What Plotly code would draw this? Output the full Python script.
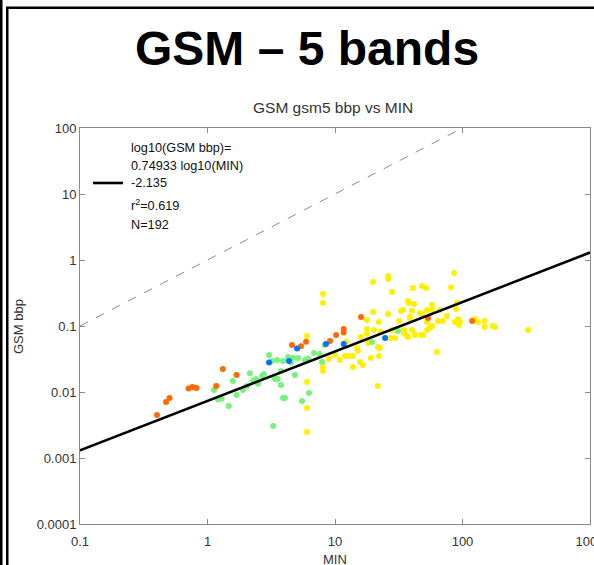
import math
import plotly.graph_objects as go

# ---------------- data ----------------
orange_x = [0.402, 0.473, 0.504, 0.71, 0.762, 0.82, 1.17, 1.32, 1.69, 4.60, 5.41, 5.93,
            9.14, 10.2, 11.7, 11.7, 16.0, 53.6, 119]
orange_y = [0.00449, 0.00705, 0.00811, 0.0113, 0.0119, 0.0115, 0.0123, 0.0223, 0.0181,
            0.0515, 0.0494, 0.0575, 0.0594, 0.0731, 0.0901, 0.0797, 0.137, 0.132, 0.119]

blue_x = [3.04, 4.36, 5.04, 8.50, 11.7, 24.7]
blue_y = [0.028, 0.0295, 0.0456, 0.0533, 0.0533, 0.0658]

green_x = [1.125, 1.21, 1.29, 1.47, 1.58, 1.69, 1.90, 2.04, 2.15, 2.27, 2.40, 2.49, 2.68,
           2.77, 3.04, 3.21, 3.51, 3.38, 3.55, 3.77, 3.77, 3.91, 4.05, 3.27, 3.91, 4.28,
           4.52, 4.69, 5.13, 4.85, 5.51, 5.82, 6.14, 6.25, 6.84, 7.55, 7.91, 8.28, 19.5, 31.2]
green_y = [0.0107, 0.00769, 0.0079, 0.00614, 0.0147, 0.00901, 0.0107, 0.0123, 0.0193,
           0.0147, 0.0157, 0.0133, 0.0175, 0.0188, 0.0364, 0.0295, 0.0305, 0.0157, 0.0157,
           0.0208, 0.0128, 0.00811, 0.00811, 0.00305, 0.0295, 0.034, 0.028, 0.0327, 0.0327,
           0.0181, 0.00731, 0.0305, 0.0316, 0.00966, 0.039, 0.0377, 0.0285, 0.0515, 0.0573,
           0.084]

yellow_x = [6.03, 6.03, 6.03, 6.03, 8.05, 8.05, 8.05, 8.05, 8.97, 10.0, 10.9, 12.0, 12.2,
            12.9, 13.8, 13.8, 14.9, 15.1, 15.7, 16.6, 16.0, 17.8, 17.8, 17.8, 18.2, 19.1,
            19.9, 19.9, 20.2, 22.1, 21.7, 22.1, 22.5, 23.0, 21.7, 26.1, 26.1, 26.1, 27.0,
            28.0, 28.0, 29.6, 31.8, 33.0, 34.1, 34.8, 34.8, 36.7, 37.4, 38.0, 38.7, 40.2,
            40.2, 40.9, 41.7, 42.4, 47.3, 48.1, 48.1, 51.8, 52.7, 52.7, 55.6, 57.7, 57.7,
            57.7, 63.1, 64.3, 70.3, 75.5, 81.3, 85.7, 90.6, 89.0, 92.3, 87.3, 95.5, 94.0,
            125, 132, 149, 149, 173, 180, 327, 46.4, 66.7, 37.4, 52.7, 49.0, 38.7]
yellow_y = [0.0705, 0.0142, 0.00573, 0.00248, 0.305, 0.223, 0.0239, 0.0208, 0.0316, 0.0364,
            0.0305, 0.0351, 0.0575, 0.0351, 0.0351, 0.0239, 0.0464, 0.0418, 0.0285, 0.0256,
            0.0682, 0.123, 0.0901, 0.0757, 0.0552, 0.0327, 0.464, 0.163, 0.087, 0.115,
            0.0481, 0.0351, 0.0464, 0.0811, 0.0123, 0.573, 0.515, 0.152, 0.0658, 0.327,
            0.087, 0.0658, 0.119, 0.169, 0.175, 0.087, 0.0783, 0.0705, 0.239, 0.223, 0.137,
            0.169, 0.087, 0.376, 0.215, 0.0731, 0.0731, 0.404, 0.152, 0.376, 0.175, 0.115,
            0.0933, 0.208, 0.175, 0.100, 0.0403, 0.119, 0.119, 0.142, 0.383, 0.635, 0.223,
            0.181, 0.128, 0.115, 0.115, 0.104, 0.128, 0.115, 0.119, 0.0966, 0.100, 0.0966,
            0.087, 0.157, 0.175, 0.0681, 0.087, 0.0731, 0.132]

fit_slope = 0.74933
fit_intercept = -2.135
one_to_one = [0.1, 100]
fit_x = [0.1, 1000]

x_ticks = [0.1, 1, 10, 100, 1000]
x_ticktext = ["0.1", "1", "10", "100", "1000"]
y_ticks = [0.0001, 0.001, 0.01, 0.1, 1, 10, 100]
y_ticktext = ["0.0001", "0.001", "0.01", "0.1", "1", "10", "100"]

legend_lines = ["log10(GSM bbp)=", "0.74933 log10(MIN)", "-2.135", "r<sup>2</sup>=0.619", "N=192"]

# ---------------- layout geometry ----------------
W, H = 594, 565
L, R, T, B = 80, 4, 128, 41
PW, PH = W - L - R, H - T - B


def px(x):
    return (x - L) / PW


def py(y):
    return (H - B - y) / PH


FONT = "Liberation Sans, Arial, sans-serif"

fig = go.Figure()

fig.add_trace(go.Scatter(x=one_to_one, y=one_to_one, mode="lines",
                         line=dict(color="#8c8c8c", width=1, dash="dash"),
                         hoverinfo="skip", showlegend=False))

for xs, ys, col in [(yellow_x, yellow_y, "#FFF000"),
                    (green_x, green_y, "#77F27A"),
                    (orange_x, orange_y, "#FF6A00"),
                    (blue_x, blue_y, "#0A6FFF")]:
    fig.add_trace(go.Scatter(x=xs, y=ys, mode="markers",
                             marker=dict(color=col, size=6, line=dict(width=0)),
                             showlegend=False))

fit_y = [10 ** (fit_intercept + fit_slope * math.log10(v)) for v in fit_x]
fig.add_trace(go.Scatter(x=fit_x, y=fit_y, mode="lines",
                         line=dict(color="black", width=2.6), showlegend=False))

axis_common = dict(type="log", showgrid=False, zeroline=False, showline=True,
                   linecolor="#8a8a8a", linewidth=1, mirror="ticks", ticks="inside",
                   ticklen=5, tickcolor="#8a8a8a", automargin=False,
                   ticklabeloverflow="allow",
                   tickfont=dict(family=FONT, size=13, color="#333333"))

fig.update_xaxes(range=[-1, 3], tickvals=x_ticks, ticktext=x_ticktext,
                 ticklabelstandoff=5, **axis_common)
fig.update_yaxes(range=[-4, 2], tickvals=y_ticks, ticktext=y_ticktext, **axis_common)

shapes = [
    # outer decorative frame
    dict(type="rect", xref="paper", yref="paper", x0=px(0), x1=px(2.5), y0=py(H), y1=py(0),
         fillcolor="black", line=dict(width=0), layer="above"),
    dict(type="rect", xref="paper", yref="paper", x0=px(6), x1=px(8.5), y0=py(H), y1=py(7),
         fillcolor="black", line=dict(width=0), layer="above"),
    dict(type="rect", xref="paper", yref="paper", x0=px(6), x1=px(W), y0=py(9), y1=py(6.5),
         fillcolor="black", line=dict(width=0), layer="above"),
    # legend line sample
    dict(type="line", xref="paper", yref="paper", x0=px(93), x1=px(123), y0=py(183), y1=py(183),
         line=dict(color="black", width=2.6)),
]

annotations = [
    dict(text="<b>GSM – 5 bands</b>", xref="paper", yref="paper", x=px(307), y=py(48),
         showarrow=False, xanchor="center", yanchor="middle",
         font=dict(family=FONT, size=48, color="black")),
    dict(text="GSM gsm5 bbp vs MIN", xref="paper", yref="paper", x=px(333), y=py(108),
         showarrow=False, xanchor="center", yanchor="middle",
         font=dict(family=FONT, size=15.5, color="#333333")),
    dict(text="MIN", xref="paper", yref="paper", x=px(335), y=py(559),
         showarrow=False, xanchor="center", yanchor="middle",
         font=dict(family=FONT, size=13, color="#333333")),
    dict(text="GSM bbp", xref="paper", yref="paper", x=px(18), y=py(327), textangle=-90,
         showarrow=False, xanchor="center", yanchor="middle",
         font=dict(family=FONT, size=13, color="#333333")),
]
for txt, yy in zip(legend_lines, [148, 166, 183, 205, 225]):
    annotations.append(dict(text=txt, xref="paper", yref="paper", x=px(129), y=py(yy),
                            showarrow=False, xanchor="left", yanchor="middle",
                            font=dict(family=FONT, size=12.7, color="#111111")))

fig.update_layout(width=W, height=H, margin=dict(l=L, r=R, t=T, b=B, autoexpand=False),
                  paper_bgcolor="white", plot_bgcolor="white",
                  shapes=shapes, annotations=annotations, showlegend=False)

fig.write_html("out.html", config={"displayModeBar": False},
               post_script="document.body.style.margin='0';document.body.style.overflow='hidden';")
